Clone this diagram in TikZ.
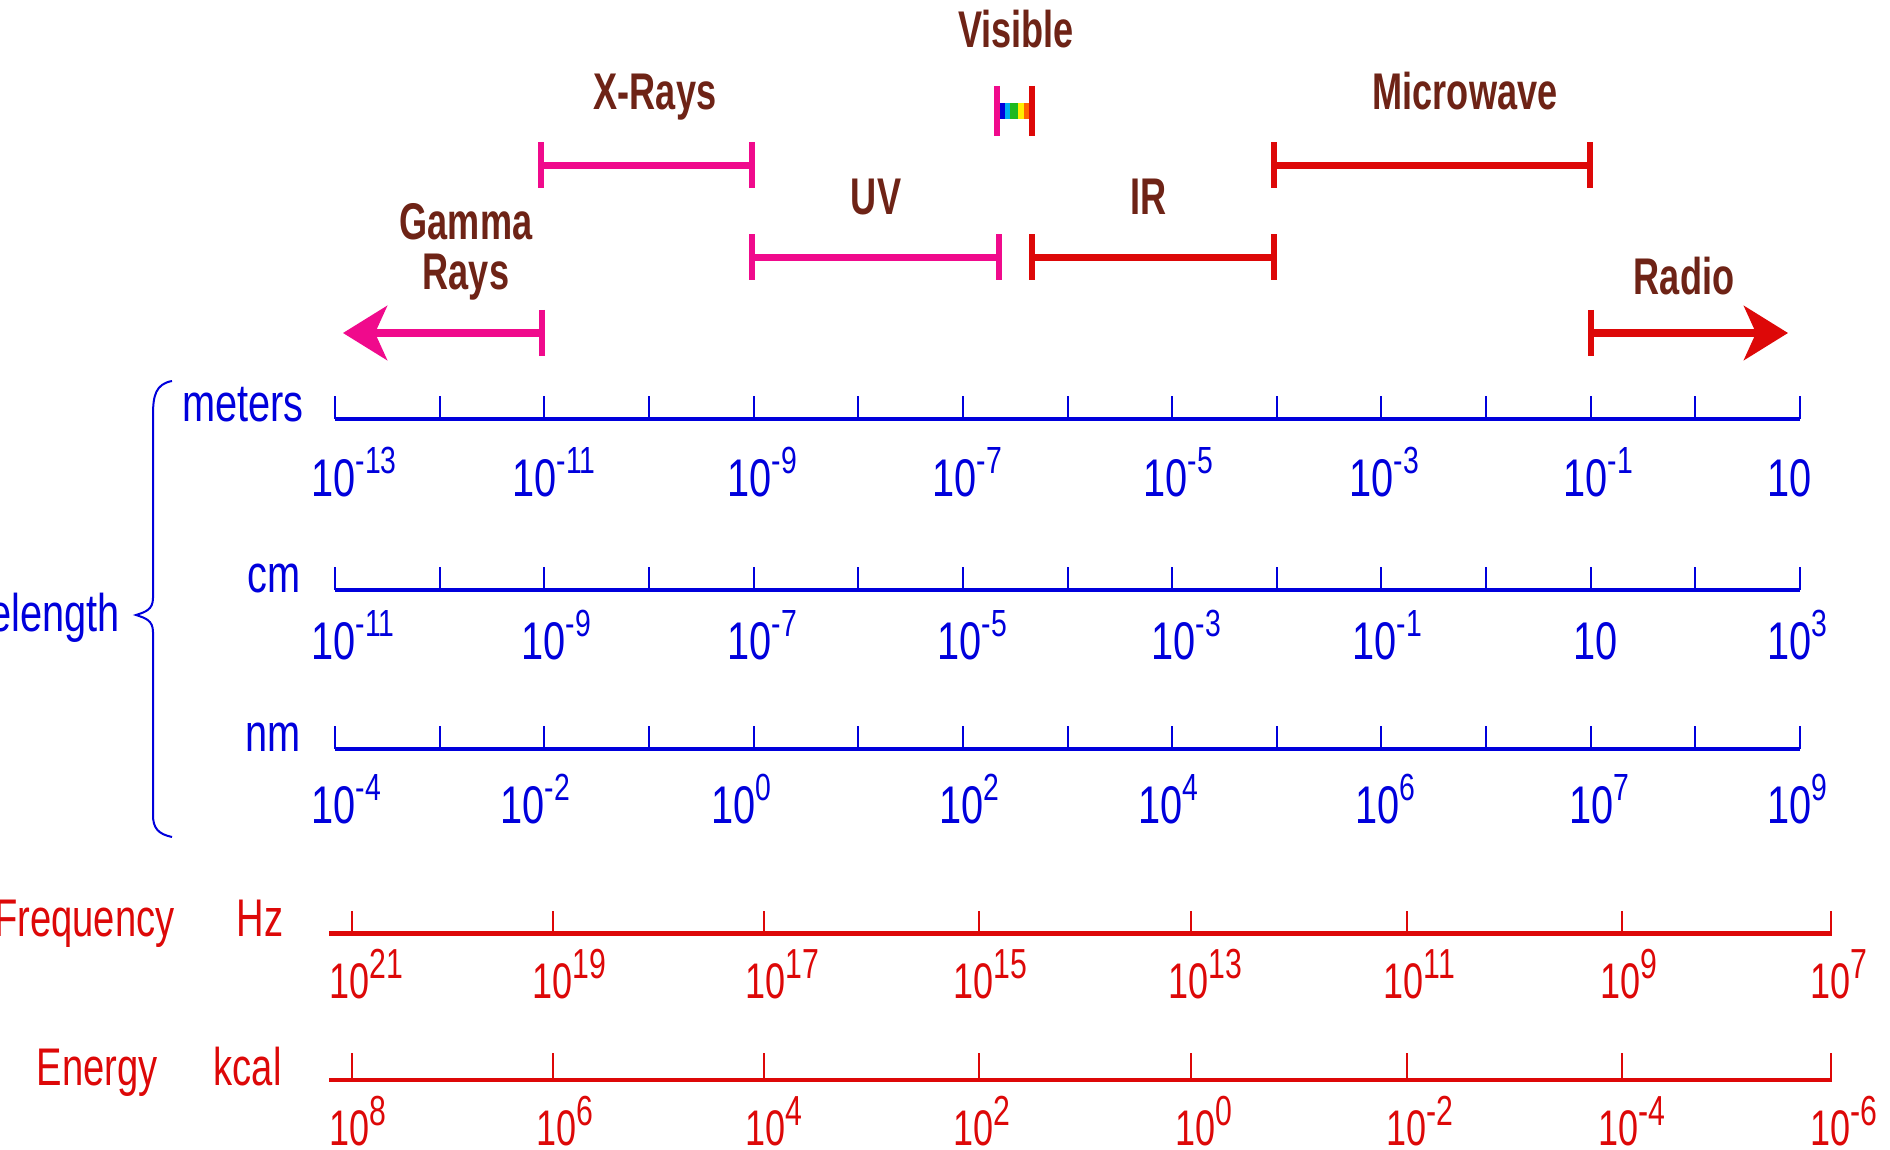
\documentclass[tikz,border=0pt]{standalone}
\usepackage{fontspec}
\usetikzlibrary{arrows.meta}
\newfontfamily\bluef[FakeStretch=0.75]{Liberation Sans}
\newfontfamily\redf[FakeStretch=0.72]{Liberation Sans}
\newfontfamily\brownf[FakeStretch=0.70]{Liberation Sans}
\definecolor{wpink}{RGB}{240,10,140}
\definecolor{wred}{RGB}{221,8,8}
\definecolor{wbrown}{RGB}{110,35,22}
\definecolor{wblue}{RGB}{0,0,220}
\definecolor{vblue}{RGB}{0,0,220}
\definecolor{vcyan}{RGB}{0,176,240}
\definecolor{vgreen}{RGB}{30,185,30}
\definecolor{vyellow}{RGB}{255,240,0}
\definecolor{vorange}{RGB}{255,100,0}
\newcommand\tenb[1]{10\raisebox{11.5pt}{\fontsize{18.9}{19}\selectfont#1}}
\newcommand\tenr[1]{10\raisebox{10pt}{\fontsize{21}{21}\selectfont#1}}
\begin{document}
\begin{tikzpicture}[x=0.5pt,y=-0.5pt,
  band/.style={font=\brownf\bfseries\fontsize{25.8}{30}\selectfont,text=wbrown,inner sep=0,anchor=base},
  bunit/.style={font=\bluef\fontsize{26.5}{30}\selectfont,text=wblue,inner sep=0,anchor=base east},
  bnum/.style={font=\bluef\fontsize{26.5}{30}\selectfont,text=wblue,inner sep=0,anchor=base west},
  runit/.style={font=\redf\fontsize{26.5}{30}\selectfont,text=wred,inner sep=0,anchor=base east},
  rnum/.style={font=\redf\fontsize{25}{30}\selectfont,text=wred,inner sep=0,anchor=base west},
  rangebar/.style={line width=3.7pt},
  endcap/.style={line width=2.8pt},
  axisline/.style={line width=2.2pt},
  tickline/.style={line width=1pt},
  bigtip/.style={-{Stealth[length=22pt,width=27pt,inset=6pt]}}]
\useasboundingbox (0,0) rectangle (1890,1150);
\clip (0,0) rectangle (1890,1150);
\fill[white] (0,0) rectangle (1890,1150);

% ---- band labels ----
\node[band] (tvis) at (1016,48) {Visible};
\node[band] (txr) at (655,110) {X-Rays};
\node[band] (tmw) at (1465,110) {Microwave};
\node[band] (tuv) at (876,215) {UV};
\node[band] (tir) at (1149,215) {IR};
\node[band] (tgam) at (466,240) {Gamma};
\node[band] (trays) at (466,290) {Rays};
\node[band] (trad) at (1684,295) {Radio};

% ---- visible ----
\fill[vblue] (1000,103) rectangle (1005,119);
\fill[vcyan] (1005,103) rectangle (1010,119);
\fill[vgreen] (1010,103) rectangle (1018,119);
\fill[vyellow] (1018,103) rectangle (1024,119);
\fill[vorange] (1024,103) rectangle (1029,119);
\coordinate (vl) at (997,111);
\coordinate (vr) at (1032,111);
\draw[endcap,wpink] ([yshift=12.5pt]vl) -- ([yshift=-12.5pt]vl);
\draw[endcap,wred] ([yshift=12.5pt]vr) -- ([yshift=-12.5pt]vr);

% ---- range bars ----
\foreach \nm/\xa/\xb/\yy/\cc in {xr/541/752/165.5/wpink, mw/1274/1590/165.5/wred,
    uv/752/999/257.5/wpink, ir/1032/1274/257.5/wred}{
  \coordinate (\nm l) at (\xa,\yy);
  \coordinate (\nm r) at (\xb,\yy);
  \draw[rangebar,\cc] (\nm l) -- (\nm r);
  \draw[endcap,\cc] ([yshift=11.5pt]\nm l) -- ([yshift=-11.5pt]\nm l);
  \draw[endcap,\cc] ([yshift=11.5pt]\nm r) -- ([yshift=-11.5pt]\nm r);
}
% gamma arrow
\coordinate (gl) at (542,333);
\coordinate (gt) at (343,333);
\draw[rangebar,wpink,bigtip] (gl) -- (gt);
\draw[endcap,wpink] ([yshift=11.5pt]gl) -- ([yshift=-11.5pt]gl);
% radio arrow
\coordinate (rl) at (1591,333);
\coordinate (rt) at (1788,333);
\draw[rangebar,wred,bigtip] (rl) -- (rt);
\draw[endcap,wred] ([yshift=11.5pt]rl) -- ([yshift=-11.5pt]rl);

% ---- wavelength axes ----
\foreach \r/\yy in {m/419,c/590,n/749}{
  \coordinate (ax\r a) at (335,\yy);
  \coordinate (ax\r b) at (1800,\yy);
  \draw[axisline,wblue] (ax\r a) -- (ax\r b);
  \foreach \i in {0,...,14}{
    \draw[tickline,wblue] ({335+104.643*\i},\yy) -- ++(0,-23);
  }
}
\node[bunit] (umeters) at (304,421) {meters};
\node[bunit] (ucm) at (301,592) {cm};
\node[bunit] (unm) at (301,751) {nm};
\node[bunit] (uwave) at (120,631) {Wavelength};

% brace
\draw[wblue,line width=1pt] (172,381) .. controls (156,384) and (153,395) .. (153,415)
  -- (153,598) .. controls (153,610) and (145,612) .. (136,615)
  .. controls (145,618) and (153,620) .. (153,632)
  -- (153,815) .. controls (153,828) and (158,834) .. (172,837);

% meters labels
\foreach \xx/\ee [count=\k] in {311/-13,512/-11,727/-9,932/-7,1143/-5,1349/-3,1563/-1}{
  \node[bnum] (lm\k) at (\xx,496) {\tenb{\ee}};
}
\node[bnum] (lm8) at (1767,496) {10};
% cm labels
\foreach \xx/\ee [count=\k] in {311/-11,521/-9,727/-7,937/-5,1151/-3,1352/-1}{
  \node[bnum] (lc\k) at (\xx,659) {\tenb{\ee}};
}
\node[bnum] (lc7) at (1573,659) {10};
\node[bnum] (lc8) at (1767,659) {\tenb{3}};
% nm labels
\foreach \xx/\ee [count=\k] in {311/-4,500/-2,711/0,939/2,1138/4,1355/6,1569/7,1767/9}{
  \node[bnum] (ln\k) at (\xx,823) {\tenb{\ee}};
}

% ---- frequency ----
\coordinate (fa) at (329,933.5);
\coordinate (fb) at (1832,933.5);
\draw[axisline,wred] (fa) -- (fb);
\foreach \xx in {352,553,764,979,1191,1407,1622,1831}{
  \draw[tickline,wred] (\xx,933) -- (\xx,911);
}
\node[runit] (ufreq) at (175,936) {Frequency};
\node[runit] (uhz) at (284,936) {Hz};
\foreach \xx/\ee [count=\k] in {329/21,532/19,745/17,953/15,1168/13,1383/11,1600/9,1810/7}{
  \node[rnum] (lf\k) at (\xx,998) {\tenr{\ee}};
}

% ---- energy ----
\coordinate (ea) at (329,1080);
\coordinate (eb) at (1832,1080);
\draw[axisline,wred] (ea) -- (eb);
\foreach \xx in {352,553,764,979,1191,1407,1622,1831}{
  \draw[tickline,wred] (\xx,1080) -- (\xx,1053);
}
\node[runit] (uen) at (158,1085) {Energy};
\node[runit] (ukcal) at (282,1085) {kcal};
\foreach \xx/\ee [count=\k] in {329/8,536/6,745/4,953/2,1175/0,1386/-2,1598/-4,1810/-6}{
  \node[rnum] (le\k) at (\xx,1145) {\tenr{\ee}};
}
\end{tikzpicture}
\end{document}
